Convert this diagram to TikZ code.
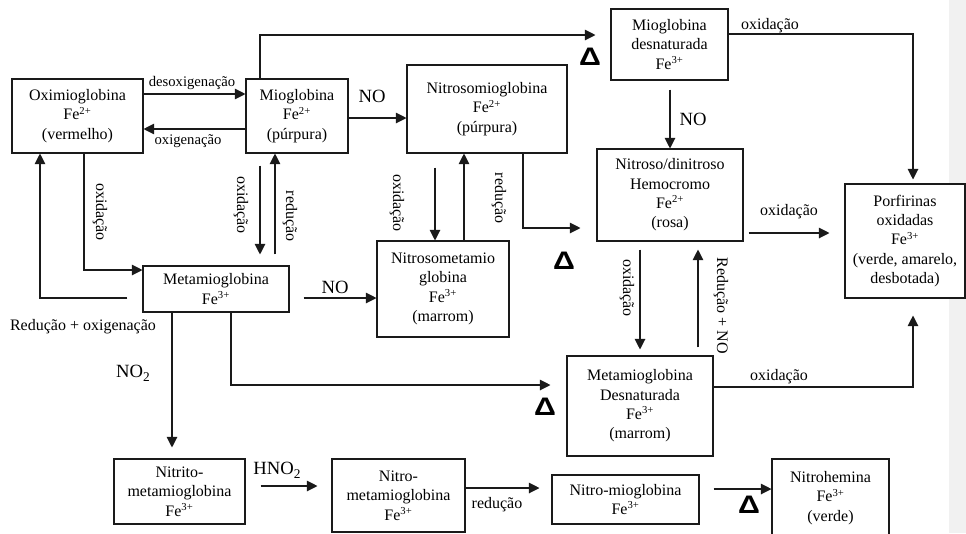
\documentclass[tikz,border=0pt]{standalone}
\usepackage{fontspec}
\setmainfont{Liberation Serif}
\newfontfamily\deltafont{Liberation Sans}
\usetikzlibrary{arrows.meta, calc}
\definecolor{sidePanel}{HTML}{F1F1F1}
\definecolor{lineDark}{HTML}{1A1A1A}
\newcommand{\heatsign}{\scalebox{1.2}[1]{Δ}}

\begin{document}
\begin{tikzpicture}[
  x=0.75pt, y=-0.75pt,
  box/.style={draw=lineDark, fill=white, line width=0.8pt, align=center,
              inner sep=1pt, font=\fontsize{12}{14.5}\selectfont},
  lbl/.style={inner sep=0pt, font=\fontsize{12}{14}\selectfont},
  smalllbl/.style={inner sep=0pt, font=\fontsize{11}{13}\selectfont},
  reag/.style={inner sep=0pt, font=\fontsize{14}{16}\selectfont},
  heat/.style={inner sep=0pt, font=\deltafont\bfseries\fontsize{19}{20}\selectfont},
  arr/.style={-{Triangle[length=8pt, width=8pt]}, line width=0.8pt, draw=lineDark},
]
\useasboundingbox (0,0) rectangle (966,533);
\fill[sidePanel] (949,0) rectangle (966,533);

% boxes
\node[box, minimum width=98.25pt, minimum height=55.5pt] (oxi) at (77.5,116)
  {Oximioglobina\\Fe\textsuperscript{2+}\\(vermelho)};
\node[box, minimum width=76.5pt, minimum height=55.5pt] (mio) at (297,116)
  {Mioglobina\\Fe\textsuperscript{2+}\\(púrpura)};
\node[box, minimum width=120pt, minimum height=66pt] (nitrosomio) at (487,109)
  {Nitrosomioglobina\\Fe\textsuperscript{2+}\\(púrpura)};
\node[box, minimum width=87.75pt, minimum height=53.25pt] (miodesn) at (669.5,44.5)
  {Mioglobina\\desnaturada\\Fe\textsuperscript{3+}};
\node[box, minimum width=109.5pt, minimum height=69pt] (hemocromo) at (670,195)
  {Nitroso/dinitroso\\Hemocromo\\Fe\textsuperscript{2+}\\(rosa)};
\node[box, minimum width=90pt, minimum height=85.5pt] (porf) at (905,241)
  {Porfirinas\\oxidadas\\Fe\textsuperscript{3+}\\(verde, amarelo,\\desbotada)};
\node[box, minimum width=109.5pt, minimum height=34.5pt] (metamio) at (216,289)
  {Metamioglobina\\Fe\textsuperscript{3+}};
\node[box, minimum width=99pt, minimum height=72pt] (nitrosometa) at (443,289)
  {Nitrosometamio\\globina\\Fe\textsuperscript{3+}\\(marrom)};
\node[box, minimum width=109.5pt, minimum height=75pt] (metadesn) at (640,406)
  {Metamioglobina\\Desnaturada\\Fe\textsuperscript{3+}\\(marrom)};
\node[box, minimum width=98.25pt, minimum height=48.75pt] (nitrito) at (179.5,491.5)
  {Nitrito-\\metamioglobina\\Fe\textsuperscript{3+}};
\node[box, minimum width=99.75pt, minimum height=54.75pt] (nitrometa) at (398.5,495.5)
  {Nitro-\\metamioglobina\\Fe\textsuperscript{3+}};
\node[box, minimum width=110.25pt, minimum height=36.75pt] (nitromio) at (625.5,499.5)
  {Nitro-mioglobina\\Fe\textsuperscript{3+}};
\node[box, minimum width=87.75pt, minimum height=58.5pt] (nitrohem) at (830.5,498)
  {Nitrohemina\\Fe\textsuperscript{3+}\\(verde)};

% connectors
\draw[arr] (oxi.east |- 0,94) -- (mio.west |- 0,94);
\draw[arr] (mio.west |- 0,129) -- (oxi.east |- 0,129);
\draw[arr, shorten >=11.25pt] (mio.north -| 260,0) |- (miodesn.west |- 0,35);
\draw[arr] (mio.east |- 0,118) -- (nitrosomio.west |- 0,118);
\draw[arr, shorten <=6.75pt] (miodesn.south -| 670,0) -- (hemocromo.north -| 670,0);
\draw[arr, shorten >=3pt] (miodesn.east |- 0,34) -| (porf.north -| 913,0);
\draw[arr] (oxi.south -| 84,0) |- (metamio.west |- 0,270);
\draw[arr, shorten <=11.25pt] (metamio.west |- 0,298) -| (oxi.south -| 40,0);
\draw[arr, shorten <=9pt, shorten >=8.25pt] (mio.south -| 260,0) -- (metamio.north -| 260,0);
\draw[arr, shorten <=8.25pt] (metamio.north -| 275,0) -- (mio.south -| 275,0);
\draw[arr, shorten <=10.5pt] (metamio.east |- 0,298) -- (nitrosometa.west |- 0,298);
\draw[arr, shorten <=10.5pt] (nitrosomio.south -| 435,0) -- (nitrosometa.north -| 435,0);
\draw[arr] (nitrosometa.north -| 464,0) -- (nitrosomio.south -| 464,0);
\draw[arr, shorten >=12pt] (nitrosomio.south -| 523,0) |- (hemocromo.west |- 0,228);
\draw[arr, shorten <=3.75pt, shorten >=11.25pt] (hemocromo.east |- 0,233) -- (porf.west |- 0,233);
\draw[arr, shorten <=6pt, shorten >=4.5pt] (hemocromo.south -| 640,0) -- (metadesn.north -| 640,0);
\draw[arr, shorten <=6pt, shorten >=6pt] (metadesn.north -| 698,0) -- (hemocromo.south -| 698,0);
\draw[arr, shorten >=12pt] (metamio.south -| 231,0) |- (metadesn.west |- 0,385);
\draw[arr, shorten >=12.75pt] (metadesn.east |- 0,387) -| (porf.south -| 913,0);
\draw[arr, shorten >=8.25pt] (metamio.south -| 172,0) -- (nitrito.north -| 172,0);
\draw[arr, shorten <=11.25pt, shorten >=10.5pt] (nitrito.east |- 0,486) -- (nitrometa.west |- 0,486);
\draw[arr, shorten >=9pt] (nitrometa.east |- 0,488) -- (nitromio.west |- 0,488);
\draw[arr, shorten <=10.5pt] (nitromio.east |- 0,489) -- (nitrohem.west |- 0,489);

% labels
\node[smalllbl] (lDesox) at (192,83) {desoxigenação};
\node[smalllbl] (lOxig) at (188,141) {oxigenação};
\node[reag] (lNOa) at (372,96) {NO};
\node[heat] (hA) at (590,57) {\heatsign};
\node[lbl] (lOxA) at (770,26) {oxidação};
\node[reag] (lNOb) at (693,119) {NO};
\node[lbl, rotate=-90] (lOxB) at (100,212) {oxidação};
\node[lbl, rotate=-90] (lOxC) at (241,205) {oxidação};
\node[lbl, rotate=-90] (lRedA) at (290,216) {redução};
\node[lbl, rotate=-90] (lOxD) at (397,203) {oxidação};
\node[lbl, rotate=-90] (lRedB) at (499,198) {redução};
\node[heat] (hB) at (564,261) {\heatsign};
\node[lbl] (lOxE) at (789,212) {oxidação};
\node[lbl, rotate=-90] (lOxF) at (627,288) {oxidação};
\node[lbl, rotate=-90] (lRedNO) at (721,306) {Redução + NO};
\node[lbl] (lOxG) at (779,377) {oxidação};
\node[lbl] (lRedOx) at (83,327) {Redução + oxigenação};
\node[reag] (lNOc) at (335,287) {NO};
\node[reag] (lNOtwo) at (133,373) {NO\raisebox{-0.45ex}{\fontsize{10}{11}\selectfont 2}};
\node[heat] (hC) at (545,407) {\heatsign};
\node[reag] (lHNO) at (277,470) {HNO\raisebox{-0.45ex}{\fontsize{10}{11}\selectfont 2}};
\node[lbl] (lRedC) at (497,505) {redução};
\node[heat] (hD) at (749,505) {\heatsign};
\end{tikzpicture}
\end{document}
